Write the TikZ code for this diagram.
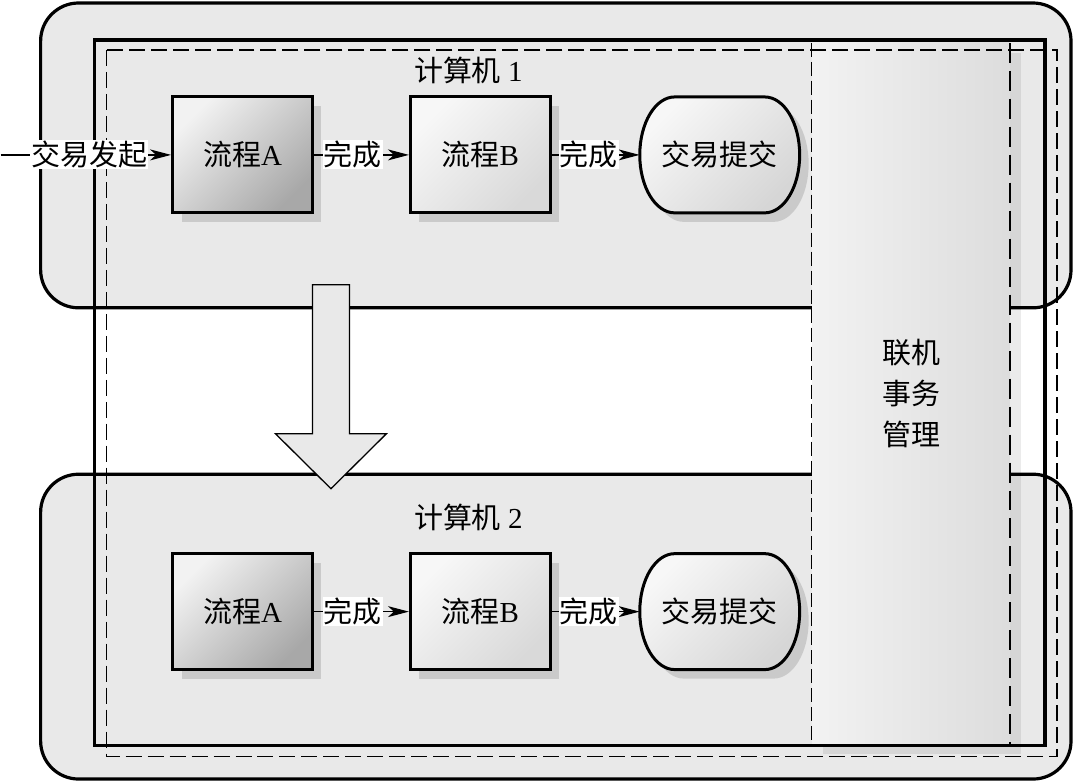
\documentclass[tikz,border=0pt]{standalone}
\usepackage{fontspec}
\setmainfont{Liberation Serif}
\newfontfamily\zhfont{Noto Sans CJK SC}
\newcommand{\zh}[1]{{\zhfont #1}}
\usetikzlibrary{arrows.meta,shadows}

% stadium outline behind a commit node (elliptic ends)
\newcommand{\stadium}[1]{%
  \path[stadium] ([shift={(-45,-58)}]#1) -- ([shift={(45,-58)}]#1)
    arc[start angle=90, end angle=-90, x radius=35pt, y radius=58pt]
    -- ([shift={(-45,58)}]#1)
    arc[start angle=270, end angle=90, x radius=35pt, y radius=58pt] -- cycle;}

\begin{document}
\begin{tikzpicture}[
    x=1pt, y=-1pt,
    font=\fontsize{29}{41}\selectfont,
    panel/.style={draw, line width=3.2pt, rounded corners=38pt, fill=gray!17, minimum width=1031pt, minimum height=305pt},
    frame/.style={draw, line width=3.2pt},
    dashframe/.style={draw, line width=1.4pt, dash pattern=on 16pt off 6pt},
    txn/.style={left color=gray!10, right color=gray!27, minimum width=198pt, minimum height=701pt, align=center,
        drop shadow={shadow xshift=11pt, shadow yshift=-10pt, fill=black, opacity=0.08}},
    proc/.style={draw, line width=3pt, minimum width=140pt, minimum height=116pt,
        drop shadow={shadow xshift=9pt, shadow yshift=-9pt, fill=black, opacity=0.13}},
    procA/.style={proc, top color=gray!10, bottom color=gray!68, shading angle=45},
    procB/.style={proc, top color=gray!6, bottom color=gray!30, shading angle=45},
    stadium/.style={draw, line width=3pt, top color=gray!6, bottom color=gray!32, shading angle=45,
        drop shadow={shadow xshift=9pt, shadow yshift=-9pt, fill=black, opacity=0.13}},
    commit/.style={minimum width=160pt, minimum height=116pt},
    flow/.style={line width=1.3pt, -{Stealth[length=21pt, width=11pt, inset=6pt]}},
    lbl/.style={fill=white, inner sep=1pt},
    bigarrow/.style={draw, line width=1.3pt, fill=gray!17}
]
% two machines
\node[panel] (pc1) at (555.5,155.5) {};
\node[panel] (pc2) at (555.5,627) {};

% online transaction manager column
\node[txn] (txnmgr) at (911,393.5) {\zh{联机}\\\zh{事务}\\\zh{管理}};
\draw[line width=1pt, dash pattern=on 14pt off 5pt] (txnmgr.north west) -- (txnmgr.south west);
\draw[line width=2.2pt, dash pattern=on 20pt off 8pt] (txnmgr.north east) -- (txnmgr.south east);

% outer frames
\draw[frame] (94,40) rectangle (1045,746);
\draw[dashframe] (106,50) rectangle (1057,757);

\node (title1) at (468,70) {\zh{计算机} 1};
\node (title2) at (468,518) {\zh{计算机} 2};

% machine 1
\coordinate (c1) at (719.5,155);
\stadium{c1}
\node[procA] (procA1) at (242,155) {\zh{流程}A};
\node[procB] (procB1) at (480,155) {\zh{流程}B};
\node[commit] (commit1) at (c1) {\zh{交易提交}};
\coordinate (start) at (0,155);

\draw[flow] (start) -- node[lbl, pos=0.52] {\zh{交易发起}} (procA1);
\draw[flow] (procA1) -- node[lbl, pos=0.41] {\zh{完成}} (procB1);
\draw[flow] (procB1) -- node[lbl, pos=0.42] {\zh{完成}} (commit1);

% machine 2
\coordinate (c2) at (719.5,612);
\stadium{c2}
\node[procA] (procA2) at (242,612) {\zh{流程}A};
\node[procB] (procB2) at (480,612) {\zh{流程}B};
\node[commit] (commit2) at (c2) {\zh{交易提交}};

\draw[flow] (procA2) -- node[lbl, pos=0.41] {\zh{完成}} (procB2);
\draw[flow] (procB2) -- node[lbl, pos=0.42] {\zh{完成}} (commit2);

% failover arrow
\draw[bigarrow] (312,285) -- (349,285) -- (349,434) -- (386,434) -- (330.5,489) -- (275,434) -- (312,434) -- cycle;

\useasboundingbox (0,0) rectangle (1073,783);
\end{tikzpicture}
\end{document}
